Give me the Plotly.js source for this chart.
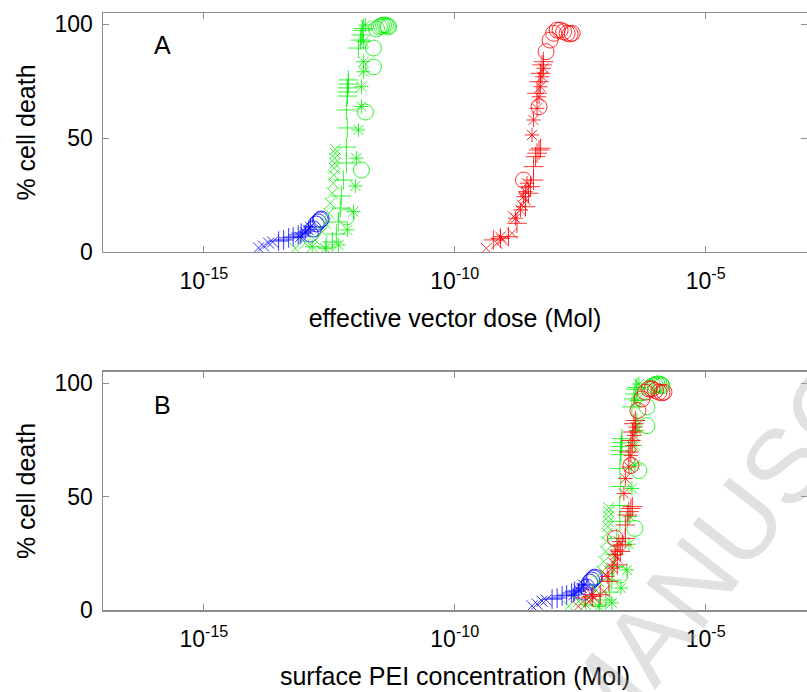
<!DOCTYPE html>
<html>
<head>
<meta charset="utf-8">
<script src="https://cdn.plot.ly/plotly-3.0.1.min.js"></script>
<style>
  html, body { margin: 0; padding: 0; background: #fff; }
  #chart { width: 807px; height: 692px; }
</style>
</head>
<body>
<div id="chart"></div>
<script>
// ---- Data (x values given as log10 of the dose / concentration in Mol) ----
// % cell death (shared by both panels)
const blueX_y   = [1.8, 2.6, 3.9, 4.4];
const bluePlus_y = [4.8, 5.3, 6.2, 6.6, 7.5, 8.3];
const blueStar_y = [6.6, 8.8, 9.7, 11.0];
const blueCirc_y = [7.9, 10.1, 12.3, 13.2, 14.1, 14.5];

const greenX_y    = [1.6, 3.8, 5.3, 8.9, 12.6, 17.0, 21.4, 25.8, 30.2, 33.8, 36.8, 39.0, 41.2, 43.4, 45.1];
const greenPlus_y = [98.2, 97.4, 95.3, 93.1, 89.6, 75.6, 73.8, 72.1, 70.3, 68.5, 62.4, 54.5, 46.1, 39.1, 31.6, 24.6, 19.3, 13.2, 7.9, 4.4, 2.2];
const greenStar_y = [99.7, 92.4, 83.6, 79.2, 72.6, 63.9, 53.6, 41.2, 29.0, 17.7, 9.7, 3.1, 1.6, 2.3];
const greenCirc_y = [98.0, 98.9, 99.3, 99.7, 99.7, 99.3, 98.9, 89.6, 81.3, 61.5, 36.0, 15.4];

const redX_y    = [1.6, 3.8, 5.3, 8.2, 15.5, 20.6, 23.0];
const redPlus_y = [5.3, 6.0, 6.7, 12.6, 19.9, 25.8, 28.7, 31.6, 37.5, 41.9, 43.4, 44.8, 45.6, 69.7, 74.8, 78.5, 82.2, 83.6];
const redStar_y = [6.7, 14.8, 18.5, 24.3, 26.5, 30.2, 51.4, 58.0, 63.1, 68.2, 72.6, 77.0, 80.7];
const redCirc_y = [31.6, 63.8, 88.0, 93.1, 96.1, 97.5, 97.5, 96.8, 96.1, 95.8, 96.1];

// Panel A: effective vector dose, log10(Mol)
const A_blueX    = [-13.91, -13.81, -13.71, -13.63];
const A_bluePlus = [-13.51, -13.41, -13.31, -13.22, -13.12, -13.06];
const A_blueStar = [-13.08, -12.98, -12.92, -12.88];
const A_blueCirc = [-12.88, -12.82, -12.76, -12.72, -12.68, -12.66];
const A_greenX    = [-13.18, -12.98, -12.78, -12.64, -12.58, -12.51, -12.48, -12.44, -12.42, -12.41, -12.40, -12.39, -12.39, -12.38, -12.38];
const A_greenPlus = [-11.82, -11.84, -11.86, -11.88, -11.92, -12.12, -12.12, -12.14, -12.14, -12.14, -12.16, -12.14, -12.16, -12.16, -12.22, -12.26, -12.28, -12.32, -12.36, -12.44, -12.56];
const A_greenStar = [-11.78, -11.82, -11.82, -11.82, -11.86, -11.86, -11.92, -11.96, -11.98, -12.02, -12.14, -12.32, -12.58, -12.84];
const A_greenCirc = [-11.56, -11.50, -11.46, -11.42, -11.38, -11.34, -11.32, -11.62, -11.62, -11.78, -11.86, -12.16];
const A_redX    = [-9.37, -9.16, -9.05, -8.86, -8.83, -8.66, -8.60];
const A_redPlus = [-9.23, -9.09, -8.93, -8.76, -8.59, -8.53, -8.49, -8.43, -8.43, -8.39, -8.36, -8.32, -8.29, -8.36, -8.32, -8.29, -8.26, -8.23];
const A_redStar = [-9.09, -8.79, -8.69, -8.63, -8.59, -8.56, -8.46, -8.43, -8.36, -8.32, -8.29, -8.26, -8.23];
const A_redCirc = [-8.63, -8.32, -8.18, -8.10, -8.03, -7.96, -7.90, -7.83, -7.76, -7.70, -7.66];

// Panel B: surface PEI concentration, log10(Mol)
const B_blueX    = [-8.46, -8.36, -8.26, -8.18];
const B_bluePlus = [-8.06, -7.96, -7.86, -7.77, -7.67, -7.61];
const B_blueStar = [-7.63, -7.53, -7.47, -7.43];
const B_blueCirc = [-7.43, -7.37, -7.31, -7.27, -7.23, -7.21];
const B_greenX    = [-7.73, -7.53, -7.33, -7.19, -7.13, -7.06, -7.03, -6.99, -6.97, -6.96, -6.95, -6.94, -6.94, -6.93, -6.93];
const B_greenPlus = [-6.37, -6.39, -6.41, -6.43, -6.47, -6.67, -6.67, -6.69, -6.69, -6.69, -6.71, -6.69, -6.71, -6.71, -6.77, -6.81, -6.83, -6.87, -6.91, -6.99, -7.11];
const B_greenStar = [-6.33, -6.37, -6.37, -6.37, -6.41, -6.41, -6.47, -6.51, -6.53, -6.57, -6.69, -6.87, -7.13, -7.39];
const B_greenCirc = [-6.11, -6.05, -6.01, -5.97, -5.93, -5.89, -5.87, -6.17, -6.17, -6.33, -6.41, -6.71];
const B_redX    = [-7.54, -7.33, -7.22, -7.03, -7.00, -6.83, -6.77];
const B_redPlus = [-7.40, -7.26, -7.10, -6.93, -6.76, -6.70, -6.66, -6.60, -6.60, -6.56, -6.53, -6.49, -6.46, -6.53, -6.49, -6.46, -6.43, -6.40];
const B_redStar = [-7.26, -6.96, -6.86, -6.80, -6.76, -6.73, -6.63, -6.60, -6.53, -6.49, -6.46, -6.43, -6.40];
const B_redCirc = [-6.80, -6.49, -6.35, -6.27, -6.20, -6.13, -6.07, -6.00, -5.93, -5.87, -5.83];

const xTickVals = [1e-15, 1e-10, 1e-5];
const xTickText = ['10<sup>-15</sup>', '10<sup>-10</sup>', '10<sup>-5</sup>'];
const yTickVals = [0, 50, 100];
const xTitleA = 'effective vector dose (Mol)';
const xTitleB = 'surface PEI concentration (Mol)';
const yTitle = '% cell death';
const watermarkText = 'ACCEPTED MANUSCRIPT';

// ---- Build traces ----
const toMol = a => a.map(v => Math.pow(10, v));
const COLORS = { blue: '#0000ff', green: '#00f000', red: '#ff0000' };
const SYM = {
  x:    { symbol: 'x-thin-open', size: 11 },
  plus: { symbol: 'cross-thin-open', size: 14 },
  star: { symbol: 'asterisk-open', size: 12 },
  circ: { symbol: 'circle-open', size: 16 }
};
function tr(xs, ys, color, kind, xa, ya) {
  return {
    x: toMol(xs), y: ys, xaxis: xa, yaxis: ya,
    type: 'scatter', mode: 'markers', hoverinfo: 'skip',
    marker: { symbol: SYM[kind].symbol, size: SYM[kind].size, color: color,
              opacity: 0.8, line: { color: color, width: 1 } },
    showlegend: false
  };
}
const groups = [
  ['blue', 'x', A_blueX, B_blueX, blueX_y],
  ['blue', 'plus', A_bluePlus, B_bluePlus, bluePlus_y],
  ['blue', 'star', A_blueStar, B_blueStar, blueStar_y],
  ['blue', 'circ', A_blueCirc, B_blueCirc, blueCirc_y],
  ['green', 'x', A_greenX, B_greenX, greenX_y],
  ['green', 'plus', A_greenPlus, B_greenPlus, greenPlus_y],
  ['green', 'star', A_greenStar, B_greenStar, greenStar_y],
  ['green', 'circ', A_greenCirc, B_greenCirc, greenCirc_y],
  ['red', 'x', A_redX, B_redX, redX_y],
  ['red', 'plus', A_redPlus, B_redPlus, redPlus_y],
  ['red', 'star', A_redStar, B_redStar, redStar_y],
  ['red', 'circ', A_redCirc, B_redCirc, redCirc_y]
];
const traces = [];
groups.forEach(g => traces.push(tr(g[2], g[4], COLORS[g[0]], g[1], 'x', 'y')));
groups.forEach(g => traces.push(tr(g[3], g[4], COLORS[g[0]], g[1], 'x2', 'y2')));

const FONT = 'Liberation Sans, Arial, sans-serif';
const AX_COL = '#8c8c8c';
function xAxis(title, anchor) {
  return {
    type: 'log', range: [-17.01, -2.98], anchor: anchor,
    tickvals: xTickVals, ticktext: xTickText,
    ticks: 'inside', ticklen: 6, tickcolor: AX_COL, tickwidth: 1,
    showline: true, linecolor: AX_COL, linewidth: 1.5, mirror: 'ticks',
    showgrid: false, zeroline: false,
    tickfont: { family: FONT, size: 23, color: '#000' },
    ticklabelstandoff: 8,
    title: { text: title, font: { family: FONT, size: 25, color: '#000' }, standoff: 16 }
  };
}
function yAxis(domain, anchor) {
  return {
    range: [0, 105], domain: domain, anchor: anchor,
    tickvals: yTickVals,
    ticks: 'inside', ticklen: 6, tickcolor: AX_COL, tickwidth: 1,
    showline: true, linecolor: AX_COL, linewidth: 1.5, mirror: 'ticks',
    showgrid: false, zeroline: false,
    tickfont: { family: FONT, size: 23, color: '#000' },
    ticklabelstandoff: 4,
    title: { text: yTitle, font: { family: FONT, size: 25, color: '#000' }, standoff: 12 }
  };
}

const layout = {
  width: 807, height: 692,
  margin: { l: 103, r: 0, t: 13, b: 82 },
  paper_bgcolor: '#fff', plot_bgcolor: 'rgba(0,0,0,0)',
  showlegend: false,
  xaxis: xAxis(xTitleA, 'y'),
  yaxis: yAxis([0.5997, 1], 'x'),
  xaxis2: xAxis(xTitleB, 'y2'),
  yaxis2: yAxis([0, 0.3987], 'x2'),
  annotations: [
    { text: 'A', xref: 'x domain', yref: 'y domain', x: 0.084, y: 0.866,
      xanchor: 'center', yanchor: 'middle',
      showarrow: false, font: { family: FONT, size: 25, color: '#000' } },
    { text: 'B', xref: 'x2 domain', yref: 'y2 domain', x: 0.084, y: 0.861,
      xanchor: 'center', yanchor: 'middle',
      showarrow: false, font: { family: FONT, size: 25, color: '#000' } },
    { text: watermarkText, xref: 'paper', yref: 'paper',
      x: (600 - 103) / 704, y: (610 - 700) / 597,
      xanchor: 'center', yanchor: 'middle', textangle: -52,
      showarrow: false, font: { family: FONT, size: 105, color: 'rgba(170,170,170,0.35)' } }
  ]
};

Plotly.newPlot('chart', traces, layout, { staticPlot: true, displayModeBar: false });
</script>
</body>
</html>
